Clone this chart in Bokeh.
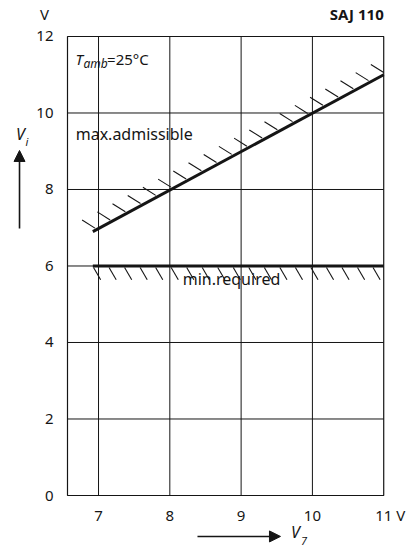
import numpy as np
from bokeh.plotting import figure
from bokeh.models import Range1d, Arrow, NormalHead
from bokeh.core.properties import value
from bokeh.embed import file_html
from bokeh.resources import INLINE

# ---- data ----
max_v7 = [6.92, 11.0]      # max. admissible boundary, V7 (V)
max_vi = [6.90, 11.0]      # max. admissible boundary, Vi (V)
min_v7 = [6.92, 11.0]      # min. required boundary, V7 (V)
min_vi = [6.0, 6.0]        # min. required boundary, Vi (V)
x_ticks = [7, 8, 9, 10, 11]
x_tick_labels = ["7", "8", "9", "10", "11"]
y_ticks = [0, 2, 4, 6, 8, 10, 12]
y_tick_labels = ["0", "2", "4", "6", "8", "10", "12"]
x_grid = [7, 8, 9, 10]
y_grid = [2, 4, 6, 8, 10]
x_lim = [6.565, 11.0]
y_lim = [0.0, 12.0]

FONT = value("Noto Sans")
INK = "#151515"

# frame spans the whole canvas so that texts in the margins are not clipped
p = figure(width=412, height=548, output_backend="svg", toolbar_location=None,
           x_range=Range1d(5.6253, 11.4037), y_range=Range1d(-1.3856, 12.941),
           min_border=0)
p.axis.visible = False
p.grid.visible = False
p.outline_line_color = None
p.background_fill_color = "white"
p.border_fill_color = "white"

# plot box and grid
p.quad(left=[x_lim[0]], right=[x_lim[1]], bottom=[y_lim[0]], top=[y_lim[1]],
       fill_color=None, line_color=INK, line_width=1.2)
p.segment(x0=x_grid, y0=[y_lim[0]] * len(x_grid), x1=x_grid, y1=[y_lim[1]] * len(x_grid),
          line_color=INK, line_width=1)
p.segment(x0=[x_lim[0]] * len(y_grid), y0=y_grid, x1=[x_lim[1]] * len(y_grid), y1=y_grid,
          line_color=INK, line_width=1)

# tick labels
p.text(x=x_ticks, y=[y_lim[0]] * len(x_ticks), text=x_tick_labels, y_offset=20,
       text_font=FONT, text_font_size="15px", text_align="center",
       text_baseline="middle", text_color=INK)
p.text(x=[x_lim[0]] * len(y_ticks), y=y_ticks, text=y_tick_labels, x_offset=-14,
       text_font=FONT, text_font_size="15px", text_align="right",
       text_baseline="middle", text_color=INK)

# boundary lines
p.line(max_v7, max_vi, line_color=INK, line_width=3)
p.line(min_v7, min_vi, line_color=INK, line_width=3.2)

# hatching (decoration derived from the boundary lines)
hx = np.linspace(max_v7[0] + 0.03, max_v7[-1], 20)
hy = np.interp(hx, max_v7, max_vi) + 0.06
p.segment(x0=hx - 0.18, y0=hy + 0.21, x1=hx, y1=hy, line_color=INK, line_width=1.1)

mx = np.linspace(min_v7[0] + 0.01, min_v7[-1] - 0.15, 19)
my = np.interp(mx, min_v7, min_vi) - 0.04
p.segment(x0=mx, y0=my, x1=mx + 0.1, y1=my - 0.32, line_color=INK, line_width=1.1)


def lab(x, y, text, size="15px", style="normal", align="left"):
    p.text(x=[x], y=[y], text=[text], text_font=FONT, text_font_size=size,
           text_font_style=style, text_align=align, text_baseline="middle",
           text_color=INK)


# in-plot texts
lab(6.677, 11.42, "T", "15px", "italic")
lab(6.79, 11.29, "amb", "12px", "italic")
lab(7.12, 11.42, "=25°C", "15px")
lab(6.68, 9.45, "max.admissible", "16px")
lab(8.865, 5.65, "min.required", "16px", align="center")

# outer texts
lab(6.242, 12.575, "V", "15px", align="center")
lab(11.0, 12.575, "SAJ 110", "15px", "bold", align="right")
lab(11.175, y_lim[0] - 0.52, "V", "15px")

# axis quantity labels with arrows
lab(5.906, 9.46, "V", "16px", "italic", align="center")
lab(5.975, 9.25, "i", "11px", "italic")
p.add_layout(Arrow(x_start=5.892, y_start=6.98, x_end=5.892, y_end=9.02,
                   line_color=INK, line_width=1.6,
                   end=NormalHead(size=11, fill_color=INK, line_color=INK)))

lab(9.763, -0.967, "V", "16px", "italic", align="center")
lab(9.84, -1.18, "7", "11px", "italic")
p.add_layout(Arrow(x_start=8.388, y_start=-1.07, x_end=9.552, y_end=-1.07,
                   line_color=INK, line_width=1.6,
                   end=NormalHead(size=11, fill_color=INK, line_color=INK)))

open("out.html", "w").write(file_html(p, INLINE))
